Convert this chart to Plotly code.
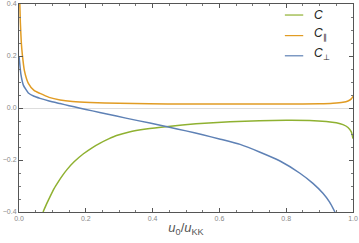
import plotly.graph_objects as go

# Data
x_C = [0.072, 0.083, 0.093, 0.105, 0.118, 0.13, 0.143, 0.165, 0.193, 0.22, 0.243, 0.27, 0.292, 0.33,
       0.38, 0.447, 0.53, 0.632, 0.72, 0.8, 0.87, 0.92, 0.95, 0.97, 0.985, 0.995, 1.0]
y_C = [-0.4, -0.368, -0.341, -0.31, -0.283, -0.26, -0.238, -0.207, -0.176, -0.152, -0.135, -0.118, -0.106,
       -0.092, -0.081, -0.071, -0.061, -0.053, -0.049, -0.047, -0.048, -0.052, -0.057, -0.064, -0.075, -0.092, -0.118]

x_Cpar = [0.002, 0.004, 0.007, 0.01, 0.016, 0.028, 0.045, 0.063, 0.09, 0.123, 0.16, 0.213, 0.3, 0.39,
          0.5, 0.6, 0.7, 0.8, 0.9, 0.94, 0.97, 0.985, 0.995, 1.0]
y_Cpar = [0.42, 0.33, 0.25, 0.205, 0.145, 0.095, 0.068, 0.056, 0.041, 0.031, 0.025, 0.021, 0.018, 0.016,
          0.015, 0.015, 0.015, 0.015, 0.016, 0.018, 0.022, 0.027, 0.035, 0.045]

x_Cperp = [0.0, 0.003, 0.006, 0.013, 0.028, 0.045, 0.063, 0.09, 0.123, 0.15, 0.18, 0.22, 0.263, 0.32,
           0.392, 0.447, 0.5, 0.55, 0.6, 0.662, 0.72, 0.78, 0.84, 0.88, 0.91, 0.93, 0.946]
y_Cperp = [0.2, 0.16, 0.127, 0.088, 0.058, 0.045, 0.037, 0.027, 0.017, 0.009, 0.0, -0.011, -0.023, -0.039,
           -0.058, -0.073, -0.088, -0.103, -0.119, -0.14, -0.169, -0.203, -0.25, -0.29, -0.328, -0.362, -0.4]

names = ["<i>C</i>", "<i>C</i><sub>∥</sub>", "<i>C</i><sub>⊥</sub>"]
colors = ["#8fb131", "#e19c24", "#5e81b5"]

fig = go.Figure()
for xs, ys, nm, col in zip([x_C, x_Cpar, x_Cperp], [y_C, y_Cpar, y_Cperp], names, colors):
    fig.add_trace(go.Scatter(x=xs, y=ys, mode="lines", name=nm, showlegend=False,
                             line=dict(color=col, width=1.5, shape="spline", smoothing=0.5)))

# Manual legend (short line samples + labels) in paper coordinates
leg_y = [0.947, 0.848, 0.751]
leg_text_dy = [0.0, 0.01, 0.01]
for nm, col, yy, dy in zip(names, colors, leg_y, leg_text_dy):
    fig.add_shape(type="line", xref="paper", yref="paper", x0=0.796, x1=0.851, y0=yy, y1=yy,
                  line=dict(color=col, width=1.2))
    fig.add_annotation(xref="paper", yref="paper", x=0.877, y=yy + dy, text=nm, showarrow=False,
                       xanchor="left", yanchor="middle",
                       font=dict(family="Liberation Sans", size=12, color="#222222"))

axis_common = dict(
    showline=True, linecolor="#555555", linewidth=1, mirror="allticks",
    ticks="inside", ticklen=4, tickcolor="#555555", tickwidth=1,
    showgrid=False, dtick=0.2, tickformat=".1f",
    tickfont=dict(family="Liberation Sans", size=7, color="#888888"),
    minor=dict(ticks="inside", ticklen=2, dtick=0.05, tickcolor="#777777", showgrid=False),
)

fig.update_layout(
    width=359, height=243,
    margin=dict(l=19, r=6, t=4, b=31, autoexpand=False),
    paper_bgcolor="white", plot_bgcolor="white",
    xaxis=dict(range=[0, 1], zeroline=False,
               title=dict(text="<i>u</i><sub>0</sub>/<i>u</i><sub>KK</sub>", standoff=1,
                          font=dict(family="Liberation Sans", size=13, color="#555555")),
               **axis_common),
    yaxis=dict(range=[-0.4, 0.4], zeroline=True, zerolinecolor="#dddddd", zerolinewidth=1,
               **axis_common),
    showlegend=False,
)

fig.write_html("out.html", config={"displayModeBar": False},
               post_script="document.body.style.margin='0';document.body.style.padding='0';"
                           "document.documentElement.style.overflow='hidden';")
